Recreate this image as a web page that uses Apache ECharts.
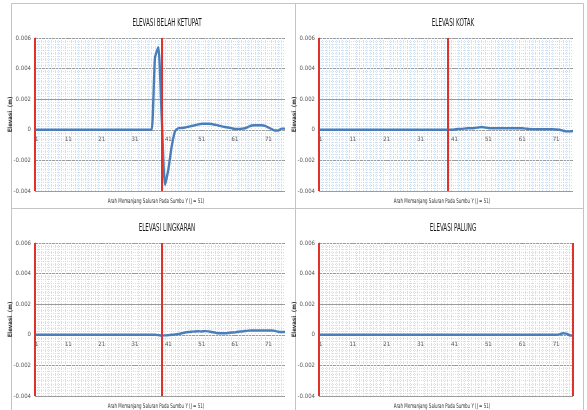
<!DOCTYPE html>
<html>
<head>
<meta charset="utf-8">
<script src="https://cdn.jsdelivr.net/npm/echarts@6/dist/echarts.min.js"></script>
<style>
  html, body { margin: 0; padding: 0; background: #fff; }
  #chart { width: 587px; height: 410px; }
</style>
</head>
<body>
<div id="chart"></div>
<script>
// Grid positions along the channel (I index)
const stations = [1,2,3,4,5,6,7,8,9,10,11,12,13,14,15,16,17,18,19,20,21,22,23,24,25,26,27,28,29,30,
  31,32,33,34,35,36,37,38,39,40,41,42,43,44,45,46,47,48,49,50,51,52,53,54,55,56,57,58,59,60,
  61,62,63,64,65,66,67,68,69,70,71,72,73,74,75,76];
const stationTicks = [1, 11, 21, 31, 41, 51, 61, 71];

// Water surface elevation (m) for each obstacle shape
const elevasiBelahKetupat = [0,0,0,0,0,0,0,0,0,0,0,0,0,0,0,0,0,0,0,0,0,0,0,0,0,0,0,0,0,0,
  0,0,0,0,0,0,0.0047,0.0054,0.0009,-0.0036,-0.0026,-0.0011,-0.0001,0.0001,0.00012,0.00015,0.0002,0.00025,0.0003,0.00035,
  0.0004,0.0004,0.0004,0.00038,0.00033,0.00028,0.00022,0.00018,0.00015,0.0001,0.00006,0.00005,0.00007,0.0001,0.0002,0.00028,0.0003,0.0003,0.0003,0.00025,
  0.00015,0.00005,-0.00005,-0.00005,0.00008,0.00008];
const elevasiKotak = [0,0,0,0,0,0,0,0,0,0,0,0,0,0,0,0,0,0,0,0,0,0,0,0,0,0,0,0,0,0,
  0,0,0,0,0,0,0,0,0,0,0.00002,0.00005,0.00006,0.00008,0.0001,0.0001,0.00012,0.00015,0.00018,0.00015,
  0.00012,0.0001,0.0001,0.0001,0.0001,0.0001,0.0001,0.0001,0.0001,0.0001,0.0001,0.00008,0.00005,0.00004,0.00004,0.00004,0.00004,0.00004,0.00004,0.00004,
  0.00002,0,-0.00005,-0.0001,-0.0001,-0.00008];
const elevasiLingkaran = [0,0,0,0,0,0,0,0,0,0,0,0,0,0,0,0,0,0,0,0,0,0,0,0,0,0,0,0,0,0,
  0,0,0,0,0,0,0,-0.00002,-0.00005,-0.00004,-0.00002,0,0.00002,0.00005,0.0001,0.00015,0.00018,0.0002,0.00022,0.00023,
  0.00022,0.00024,0.00022,0.00018,0.00015,0.0001,0.0001,0.0001,0.00012,0.00015,0.00016,0.0002,0.00022,0.00025,0.00027,0.00028,0.00028,0.00028,0.00028,0.00028,
  0.00028,0.00028,0.00026,0.0002,0.00018,0.00018];
const elevasiPalung = [0,0,0,0,0,0,0,0,0,0,0,0,0,0,0,0,0,0,0,0,0,0,0,0,0,0,0,0,0,0,
  0,0,0,0,0,0,0,0,0,0,0,0,0,0,0,0,0,0,0,0,0,0,0,0,0,0,0,0,0,0,
  0,0,0,0,0,0,0,0,0,0,0,0.00003,0.0001,0.00008,-0.00003,-0.00005];

// Obstacle boundary markers (red verticals) per panel
const batasBelahKetupat = [1, 39];
const batasKotak = [1, 39];
const batasLingkaran = [1, 39];
const batasPalung = [1, 76];

const panelTitles = ['ELEVASI BELAH KETUPAT', 'ELEVASI KOTAK', 'ELEVASI LINGKARAN', 'ELEVASI PALUNG'];
const xAxisTitle = 'Arah Memanjang Saluran Pada Sumbu Y (J = 51)';
const yAxisTitle = 'Elevasi  (m)';
const yMin = -0.004, yMax = 0.006, yStep = 0.002;
const xMin = 1, xMax = 76, xStep = 10;

const FONT = '"Liberation Sans Narrow", "DejaVu Sans Condensed", "Liberation Sans", sans-serif';
const MINOR = { show: true, lineStyle: { color: '#d0e0f0', type: 'dotted', width: 1 } };

const panels = [
  { data: elevasiBelahKetupat, marks: batasBelahKetupat, grid: { left: 35, top: 38, width: 250, height: 153 }, box: [11, 3, 284, 205] },
  { data: elevasiKotak, marks: batasKotak, grid: { left: 319, top: 38, width: 254, height: 153 }, box: [295, 3, 288, 205] },
  { data: elevasiLingkaran, marks: batasLingkaran, grid: { left: 35, top: 243, width: 250, height: 153 }, box: [11, 208, 284, 210] },
  { data: elevasiPalung, marks: batasPalung, grid: { left: 319, top: 243, width: 254, height: 153 }, box: [295, 208, 288, 210] }
];

const grids = [], xAxes = [], yAxes = [], series = [], graphics = [];

panels.forEach((p, i) => {
  const g = p.grid;
  // distance of the zero level above the plot bottom, so the station labels sit under y = 0
  const zeroLift = g.height * (0 - yMin) / (yMax - yMin);
  grids.push(g);
  // background axis: dotted minor grid only
  xAxes.push({
    type: 'value', gridIndex: i, min: xMin, max: xMax, interval: xStep,
    axisLine: { show: false, onZero: false }, axisTick: { show: false },
    axisLabel: { show: false }, splitLine: { show: false },
    minorTick: { show: false, splitNumber: 10 }, minorSplitLine: MINOR
  });
  // foreground axis: station labels along the zero level
  xAxes.push({
    type: 'value', gridIndex: i, min: xMin, max: xMax, interval: xStep,
    position: 'bottom', offset: -zeroLift, z: 5,
    axisLine: { show: false, onZero: false },
    axisTick: { show: false },
    axisLabel: { fontFamily: FONT, fontSize: 6, color: '#555', margin: 7,
      customValues: stationTicks, hideOverlap: false, showMinLabel: true, alignMinLabel: 'left' },
    splitLine: { show: false }
  });
  yAxes.push({
    type: 'value', gridIndex: i, min: yMin, max: yMax, interval: yStep,
    name: yAxisTitle, nameLocation: 'middle', nameGap: 22, nameMoveOverlap: false,
    nameTextStyle: { fontFamily: FONT, fontSize: 6, fontWeight: 'bold', color: '#333' },
    axisLine: { show: true, onZero: false, lineStyle: { color: '#8c8c8c' } },
    axisTick: { show: false },
    axisLabel: { fontFamily: FONT, fontSize: 6, color: '#555', margin: 4,
      formatter: v => (Math.abs(v) < 1e-12 ? '0' : v.toFixed(3)) },
    splitLine: { show: true, lineStyle: { color: '#9c9c9c', width: 1 } },
    minorTick: { show: false, splitNumber: 10 },
    minorSplitLine: MINOR
  });
  series.push({
    type: 'line', xAxisIndex: 2 * i, yAxisIndex: i,
    data: stations.map((s, k) => [s, p.data[k]]),
    showSymbol: false, smooth: 0.2,
    lineStyle: { color: '#4a7ebb', width: 2.4 },
    z: 3,
    markLine: {
      silent: true, symbol: 'none', label: { show: false },
      lineStyle: { color: '#e2302b', width: 2, type: 'solid' },
      data: p.marks.map(m => ({ xAxis: m }))
    }
  });

  const [bx, by, bw, bh] = p.box;
  graphics.push({
    type: 'rect', shape: { x: bx + 0.5, y: by + 0.5, width: bw, height: bh },
    style: { fill: 'none', stroke: '#c4c4c4', lineWidth: 1 }, silent: true, z: -1
  });
  graphics.push({
    type: 'text', x: g.left + g.width / 2 + 7, y: g.top - 15, scaleX: 0.62,
    style: { text: panelTitles[i], fontFamily: FONT, fontSize: 10, fill: '#1a1a1a',
      textAlign: 'center', textVerticalAlign: 'middle' }
  });
  graphics.push({
    type: 'text', x: g.left + g.width / 2 - 4, y: g.top + g.height + 10, scaleX: 0.68,
    style: { text: xAxisTitle, fontFamily: FONT, fontSize: 6.5, fill: '#333',
      textAlign: 'center', textVerticalAlign: 'middle' }
  });
});

const chart = echarts.init(document.getElementById('chart'), null, { renderer: 'canvas' });
chart.setOption({
  backgroundColor: '#ffffff',
  animation: false,
  grid: grids,
  xAxis: xAxes,
  yAxis: yAxes,
  series: series,
  graphic: graphics
});
</script>
</body>
</html>
